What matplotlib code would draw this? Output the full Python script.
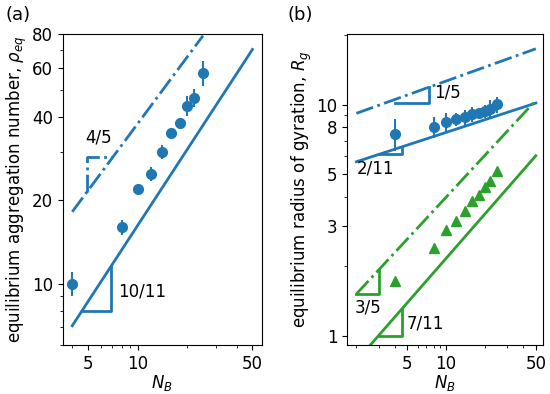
import numpy as np
from matplotlib import pyplot as plt
from matplotlib.ticker import FixedLocator, NullFormatter

# simulation data
NB = [4, 8, 10, 12, 14, 16, 18, 20, 22, 25]
p_eq = [10, 16, 22, 25, 30, 35, 38, 44, 47, 58]
p_err = [1.0, 1.0, 0.6, 1.5, 1.7, 0.6, 1.8, 3.7, 3.5, 6.0]
Rg_core = [7.5, 8.05, 8.45, 8.65, 8.85, 9.1, 9.2, 9.4, 9.6, 10.05]
Rg_core_err = [1.2, 0.85, 0.8, 0.55, 0.65, 0.7, 0.5, 0.6, 0.9, 0.8]
Rg_tri = [1.73, 2.40, 2.86, 3.13, 3.48, 3.83, 4.08, 4.40, 4.66, 5.17]

# scaling guide lines (end points)
a_solid_N, a_solid_y = [4, 50], [7.05, 70.3]
a_dash_N, a_dash_y = [4, 25], [18.2, 78.8]
b_blue_solid_N, b_blue_solid_y = [2, 50], [5.67, 10.18]
b_blue_dash_N, b_blue_dash_y = [2, 50], [9.19, 17.5]
b_green_dash_N, b_green_dash_y = [2, 50], [1.516, 10.46]
b_green_solid_N, b_green_solid_y = [2, 50], [0.777, 6.02]

# slope triangles
tri_a_solid = ([4.6, 6.9, 6.9], [8.0, 8.0, 11.5])
tri_a_dash = ([4.9, 4.9, 7.0], [21.4, 28.8, 28.8])
tri_b_blue_dash = ([4.0, 7.4, 7.4], [10.2, 10.2, 11.9])
tri_b_blue_solid = ([3.0, 4.5, 4.5], [6.1, 6.1, 6.58])
tri_b_green_dash = ([2.0, 3.0, 3.0], [1.516, 1.516, 1.93])
tri_b_green_solid = ([3.0, 4.5, 4.5], [1.0, 1.0, 1.30])

blue = '#1f77b4'
green = '#2ca02c'
lw = 2

plt.rcParams['font.size'] = 12
fig = plt.figure(figsize=(5.5, 3.94), dpi=100)
ax1 = fig.add_axes([0.114, 0.124, 0.362, 0.79])
ax2 = fig.add_axes([0.6315, 0.124, 0.356, 0.79])

# (a)
ax1.errorbar(NB, p_eq, yerr=p_err, fmt='o', color=blue, ms=7, elinewidth=1.5, capsize=0)
ax1.plot(a_solid_N, a_solid_y, '-', color=blue, lw=lw)
ax1.plot(a_dash_N, a_dash_y, '-.', color=blue, lw=lw)
ax1.plot(*tri_a_solid, '-', color=blue, lw=lw)
ax1.plot(*tri_a_dash, '-.', color=blue, lw=lw)
ax1.text(4.8, 32.5, '4/5', fontsize=12)
ax1.text(7.6, 9.4, '10/11', fontsize=12, va='center')
ax1.set_xscale('log')
ax1.set_yscale('log')
ax1.set_ylim(6, 80)
ax1.set_xlim(3.5, 57)
ax1.yaxis.set_major_locator(FixedLocator([10, 20, 40, 60, 80]))
ax1.yaxis.set_minor_locator(FixedLocator([6, 7, 8, 9, 30, 50, 70]))
ax1.set_ylabel(r'equilibrium aggregation number, $\rho_{eq}$', labelpad=2)

# (b)
ax2.errorbar(NB, Rg_core, yerr=Rg_core_err, fmt='o', color=blue, ms=7, elinewidth=1.5, capsize=0)
ax2.plot(NB, Rg_tri, '^', color=green, ms=6.5)
ax2.plot(b_blue_solid_N, b_blue_solid_y, '-', color=blue, lw=lw)
ax2.plot(b_blue_dash_N, b_blue_dash_y, '-.', color=blue, lw=lw)
ax2.plot(b_green_dash_N, b_green_dash_y, '-.', color=green, lw=lw)
ax2.plot(b_green_solid_N, b_green_solid_y, '-', color=green, lw=lw)
ax2.plot(*tri_b_blue_dash, '-', color=blue, lw=lw)
ax2.plot(*tri_b_blue_solid, '-', color=blue, lw=lw)
ax2.plot(*tri_b_green_dash, '-', color=green, lw=lw)
ax2.plot(*tri_b_green_solid, '-', color=green, lw=lw)
ax2.text(8.0, 11.3, '1/5', fontsize=12, va='center')
ax2.text(2.0, 5.3, '2/11', fontsize=12, va='center')
ax2.text(1.95, 1.33, '3/5', fontsize=12, va='center')
ax2.text(4.9, 1.13, '7/11', fontsize=12, va='center')
ax2.set_xscale('log')
ax2.set_yscale('log')
ax2.set_ylim(0.91, 20.3)
ax2.set_xlim(1.7, 57)
ax2.yaxis.set_major_locator(FixedLocator([1, 3, 5, 8, 10]))
ax2.yaxis.set_minor_locator(FixedLocator([2, 4, 6, 7, 9, 20]))
ax2.set_ylabel(r'equilibrium radius of gyration, $R_g$', labelpad=2)

for ax in (ax1, ax2):
    ax.xaxis.set_major_locator(FixedLocator([5, 10, 50]))
    ax.xaxis.set_minor_locator(FixedLocator([2, 3, 4, 6, 7, 8, 9, 20, 30, 40]))
    ax.xaxis.set_minor_formatter(NullFormatter())
    ax.yaxis.set_minor_formatter(NullFormatter())
    ax.set_xticklabels(['5', '10', '50'])
    ax.set_xlabel(r'$N_B$', labelpad=0)
ax1.set_yticklabels(['10', '20', '40', '60', '80'])
ax2.set_yticklabels(['1', '3', '5', '8', '10'])

fig.text(0.01, 0.985, '(a)', fontsize=13, va='top')
fig.text(0.523, 0.985, '(b)', fontsize=13, va='top')

plt.savefig('out.png')
